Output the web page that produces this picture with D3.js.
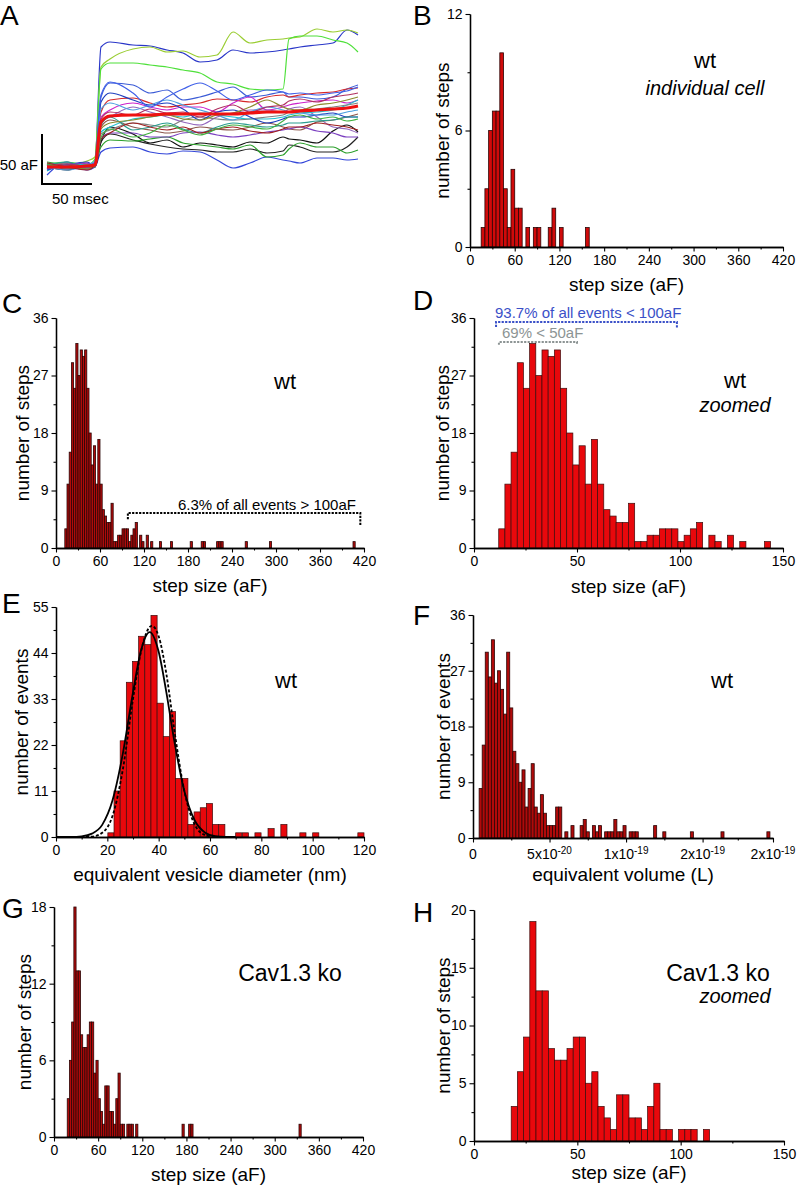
<!DOCTYPE html>
<html>
<head>
<meta charset="utf-8">
<script src="https://cdn.jsdelivr.net/npm/d3@7"></script>
<style>
  body { margin: 0; background: #fff; }
</style>
</head>
<body>
<svg width="800" height="1187"></svg>
<script>
const FONT = '"Liberation Sans", Arial, Helvetica, sans-serif';

// ---- A: capacitance traces (time in msec, capacitance in aF) ----
const traceTimes = [0, 20, 40, 48, 54, 63, 86, 103, 120, 136, 153, 170, 186, 203, 220, 236, 242, 253, 270, 286, 300, 311];
const traceColors = ['#2936c8', '#9acd32', '#4ee03a', '#3447d9', '#111111', '#222222', '#2ca02c', '#3b5bd6',
  '#d62728', '#cc22cc', '#9467bd', '#20c0d0', '#808080', '#8c564b', '#1f3fbf', '#2a9d8f', '#4da0e0',
  '#8c8c30', '#7b3fc0', '#4060e8', '#a02020', '#b03060', '#40b040'];
const traceValues = [
  [-2, 3, 0, 5, 120, 125, 122, 121, 117, 114, 105, 107, 117, 114, 115, 117, 118, 120, 122, 124, 137, 132],
  [4, 2, 6, 10, 100, 108, 118, 120, 115, 116, 110, 112, 135, 124, 127, 128, 129, 130, 138, 135, 137, 134],
  [3, 5, 2, 8, 98, 104, 104, 102, 100, 97, 94, 85, 83, 78, 77, 78, 128, 131, 131, 127, 124, 115],
  [-8, 5, -3, 0, 15, 19, 20, 15, 13, 16, 15, 7, -1, 4, 10, 7, 6, 4, 9, 9, 7, 8],
  [0, -3, 2, 0, 25, 40, 33, 24, 27, 20, 24, 22, 20, 25, 24, 30, 28, 27, 24, 36, 42, 35],
  [2, 0, -2, 3, 25, 33, 27, 23, 20, 18, 17, 15, 15, 18, 14, 16, 22, 20, 15, 15, 20, 30],
  [5, 2, 0, 4, 20, 27, 26, 28, 30, 24, 22, 20, 18, 22, 10, 12, 18, 24, 20, 20, 14, 17],
  [-2, 3, -1, 5, 70, 84, 82, 74, 77, 67, 70, 75, 80, 70, 72, 75, 70, 70, 68, 70, 78, 82],
  [0, 2, 3, 4, 55, 67, 69, 64, 60, 62, 64, 68, 67, 65, 70, 72, 70, 72, 74, 75, 78, 79],
  [3, -2, 4, 2, 50, 57, 64, 60, 57, 60, 60, 55, 64, 70, 57, 60, 62, 64, 66, 67, 64, 67],
  [4, 0, -3, 3, 45, 50, 60, 55, 50, 45, 42, 50, 54, 57, 57, 55, 58, 60, 50, 40, 38, 34],
  [-4, 3, 2, 0, 35, 40, 48, 50, 52, 50, 54, 52, 50, 48, 48, 50, 52, 54, 55, 57, 62, 67],
  [1, 4, -2, 2, 33, 37, 44, 42, 40, 47, 50, 48, 47, 48, 50, 52, 55, 57, 58, 60, 62, 64],
  [2, -2, 1, 0, 40, 47, 40, 37, 34, 36, 40, 38, 37, 40, 44, 40, 38, 37, 45, 47, 50, 53],
  [-3, 2, 5, 1, 65, 74, 67, 62, 64, 58, 47, 55, 57, 50, 44, 48, 50, 50, 52, 54, 50, 50],
  [2, 5, 0, 3, 42, 50, 37, 40, 44, 38, 34, 40, 44, 42, 40, 42, 44, 44, 46, 47, 50, 50],
  [0, -3, 2, 6, 58, 64, 57, 62, 67, 62, 57, 52, 47, 55, 60, 57, 55, 54, 52, 52, 55, 57],
  [3, 1, -2, 4, 38, 44, 47, 50, 52, 48, 47, 52, 54, 60, 67, 60, 58, 57, 62, 64, 67, 70],
  [-2, 2, 4, 1, 28, 34, 34, 30, 30, 34, 35, 32, 30, 32, 35, 37, 38, 40, 36, 34, 30, 30],
  [2, -1, 0, 5, 72, 85, 74, 60, 70, 78, 84, 76, 67, 72, 77, 75, 73, 74, 72, 74, 76, 80],
  [4, 0, -3, 2, 28, 34, 44, 40, 37, 40, 34, 38, 40, 36, 34, 38, 40, 40, 44, 42, 40, 37],
  [1, 3, 1, 2, 48, 55, 52, 58, 54, 55, 50, 58, 62, 55, 60, 62, 66, 68, 65, 70, 72, 74],
  [3, -1, 2, 1, 30, 38, 30, 34, 42, 37, 32, 38, 42, 40, 38, 46, 50, 52, 48, 50, 46, 48]
];
const meanTrace = [0, 0, 1, 2, 45, 51, 52, 52, 53, 53, 53, 53, 53, 54, 55, 55, 55, 56, 57, 58, 59, 61];

// ---- B: one cell, 5 aF bins ----
const cellStart = [15, 20, 25, 30, 35, 40, 45, 50, 55, 60, 65, 75, 85, 90, 105, 110, 120, 155];
const cellCount = [1, 3, 6, 7, 7, 10, 3, 1, 4, 2, 2, 1, 1, 1, 1, 2, 1, 1];

// ---- C / D: all wt steps, 3 aF bins ----
const wtStart = [12, 15, 18, 21, 24, 27, 30, 33, 36, 39, 42, 45, 48, 51, 54, 57, 60, 63, 66, 69, 72, 75,
  78, 81, 84, 87, 90, 93, 96, 99, 102, 105, 108, 111, 114, 117, 120, 123, 126, 129, 132, 135, 138, 141];
const wtCount = [3, 10, 15, 29, 25, 32, 27, 31, 30, 31, 25, 18, 13, 16, 10, 17, 10, 6, 5, 4, 4, 7,
  1, 1, 2, 2, 3, 3, 3, 1, 2, 3, 4, 0, 2, 1, 0, 2, 0, 1, 0, 0, 0, 1];
const wtTailStart = [156, 183, 198, 201, 219, 222, 225, 258, 291, 405];
const wtTailCount = [1, 1, 1, 1, 1, 1, 1, 1, 1, 1];

// ---- E: equivalent vesicle diameter (nm), 2.4 nm bins ----
const diamStart = [20.2, 22.6, 25, 27.4, 29.8, 32.2, 34.6, 37, 39.4, 41.8, 44.2, 46.6, 49, 51.4, 53.8, 56.2,
  58.6, 61, 63.4, 70, 72.6, 77.5, 82.6, 87.6, 95, 100, 117.6];
const diamCount = [1, 11, 23, 37, 42, 48, 46, 53, 32, 24, 30, 14, 14, 3, 6, 7, 8, 3, 3, 1, 1, 1, 2, 3, 1, 1, 1];
const fitDiam = [0, 6, 10, 14, 18, 22, 26, 30, 33, 36.5, 40, 43, 46, 50, 54, 58, 62, 66, 70];
const fitSolid = [0, 0, 0.15, 0.8, 2.9, 8.7, 19.8, 34.6, 44.3, 49, 44.3, 34.6, 23.3, 11, 4, 1.1, 0.2, 0, 0];
const dashDiam = [0, 10, 14, 18, 22, 26, 30, 33, 37.3, 40, 43, 46, 50, 54, 58, 62, 70];
const dashVal = [0, 0, 0.1, 1, 5, 16, 33, 44, 50.5, 48, 39, 26, 11, 3, 0.5, 0, 0];

// ---- F: equivalent volume, in units of 1e-21 L, 2e-21 L bins ----
const volStart = [4, 6, 8, 10, 12, 14, 16, 18, 20, 22, 24, 26, 28, 30, 32, 34, 36, 38, 40, 42, 44, 46, 48, 50, 52,
  54, 56, 60, 64, 70, 72, 74, 78, 80, 82, 86, 88, 90, 92, 94, 96, 98, 102, 104, 106, 118, 124, 142, 162, 192];
const volCount = [8, 15, 30, 26, 32, 25, 27, 24, 20, 30, 21, 14, 12, 9, 11, 5, 8, 12, 5, 4, 7, 4, 2, 2, 2,
  5, 5, 1, 2, 2, 3, 1, 2, 1, 2, 1, 1, 1, 3, 1, 1, 2, 1, 1, 1, 2, 1, 1, 1, 1];
const volTicks = [0, 50, 100, 150, 196];
const volTickBase = ['0', '5x10', '1x10', '2x10', '2x10'];
const volTickExp = ['', '-20', '-19', '-19', '-19'];

// ---- G / H: Cav1.3 ko steps, 3 aF bins ----
const koStart = [18, 21, 24, 27, 30, 33, 36, 39, 42, 45, 48, 51, 54, 57, 60, 63, 66, 69, 72, 75, 78, 81,
  84, 87, 90, 93, 96, 99, 102, 105, 108, 111];
const koCount = [3, 6, 9, 19, 13, 13, 8, 7, 7, 8, 9, 9, 5, 6, 3, 2, 1, 4, 4, 2, 2, 1, 3, 5, 1, 1, 0, 1, 1, 1, 0, 1];
const koTailStart = [174, 183, 186, 333];
const koTailCount = [1, 1, 1, 1];

const svg = d3.select('svg');

function txt(x, y, s, size, opts) {
  opts = opts || {};
  return svg.append('text')
    .attr('x', x).attr('y', y)
    .attr('font-family', FONT)
    .attr('font-size', size)
    .attr('font-style', opts.italic ? 'italic' : 'normal')
    .attr('text-anchor', opts.anchor || 'start')
    .attr('fill', opts.color || '#000')
    .text(s);
}

function styleAxis(s) {
  s.attr('font-size', 14).attr('font-family', FONT);
  s.selectAll('.domain').attr('stroke-width', 1.3);
  s.selectAll('.tick line').attr('stroke-width', 1.1);
  s.selectAll('text').attr('fill', '#000');
}

function hist(o) {
  const x = d3.scaleLinear().domain(o.xDomain).range([o.x0, o.x1]);
  const y = d3.scaleLinear().domain(o.yDomain).range([o.y0, o.y1]);
  const yMax = o.yDomain[1];
  const g = svg.append('g');
  const rows = o.starts.map((s, i) => ({ s: s, c: o.counts[i] })).filter(d => d.c > 0);

  g.selectAll('rect')
    .data(rows)
    .enter()
    .append('rect')
    .attr('x', d => x(d.s))
    .attr('width', d => x(d.s + o.bin) - x(d.s))
    .attr('y', d => y(Math.min(d.c, yMax)))
    .attr('height', d => y(0) - y(Math.min(d.c, yMax)))
    .attr('fill', o.fill || '#e8080c')
    .attr('stroke', o.stroke || '#3b0d0d')
    .attr('stroke-width', o.sw || 0.7);

  const xa = g.append('g').attr('transform', `translate(0,${o.y0})`);
  xa.append('g').call(d3.axisBottom(x).tickValues(o.xMinor).tickSize(2.5).tickSizeOuter(0).tickFormat(''))
    .call(styleAxis);
  xa.append('g').call(d3.axisBottom(x).tickValues(o.xTicks).tickSize(4.5).tickSizeOuter(0).tickPadding(4)
    .tickFormat(o.xFmt || d3.format('d')))
    .call(styleAxis);

  const ya = g.append('g').attr('transform', `translate(${o.x0},0)`);
  ya.append('g').call(d3.axisLeft(y).tickValues(o.yMinor).tickSize(2.5).tickSizeOuter(0).tickFormat(''))
    .call(styleAxis);
  ya.append('g').call(d3.axisLeft(y).tickValues(o.yTicks).tickSize(4.5).tickSizeOuter(0).tickPadding(3)
    .tickFormat(d3.format('d')))
    .call(styleAxis);

  txt((o.x0 + o.x1) / 2, o.xLabelY, o.xLabel, 19, { anchor: 'middle' });
  svg.append('text')
    .attr('transform', `translate(${o.yLabelX},${(o.y0 + o.y1) / 2}) rotate(-90)`)
    .attr('dy', '0.35em')
    .attr('text-anchor', 'middle')
    .attr('font-family', FONT)
    .attr('font-size', 19)
    .text(o.yLabel);

  return { x: x, y: y, g: g };
}

function bracket(x, y, a, b, level, endA, endB, color) {
  const pts = [[a, endA], [a, level], [b, level], [b, endB]];
  svg.append('path')
    .attr('d', d3.line().x(d => x(d[0])).y(d => y(d[1]))(pts))
    .attr('fill', 'none')
    .attr('stroke', color)
    .attr('stroke-width', 2)
    .attr('stroke-dasharray', '2.2,1.3');
}

// narrow-bar panels look darker in the original
const DARK = { fill: '#b00a0a', stroke: '#2a0505', sw: 0.8 };

// ---------- panel letters ----------
[['A', 0, 25], ['B', 413, 25], ['C', 2, 313], ['D', 413, 310],
 ['E', 2, 613], ['F', 413, 625], ['G', 2, 918], ['H', 413, 922]].forEach(p => txt(p[1], p[2], p[0], 28));

// ---------- A ----------
const ax = d3.scaleLinear().domain([0, 311]).range([47, 358]);
const ay = d3.scaleLinear().domain([0, 150]).range([167, 17]);
const traceLine = d3.line()
  .x((d, i) => ax(traceTimes[i]))
  .y(d => ay(d))
  .curve(d3.curveMonotoneX);

svg.append('g')
  .selectAll('path')
  .data(traceValues)
  .enter()
  .append('path')
  .attr('d', traceLine)
  .attr('fill', 'none')
  .attr('stroke', (d, i) => traceColors[i])
  .attr('stroke-width', 1.2);

svg.append('path')
  .attr('d', traceLine(meanTrace))
  .attr('fill', 'none')
  .attr('stroke', '#ee1111')
  .attr('stroke-width', 3.2);

// scale bar: 50 msec x 50 aF
svg.append('path')
  .attr('d', d3.line()([[ax(-5), ay(33)], [ax(-5), ay(-17)], [ax(45), ay(-17)]]))
  .attr('fill', 'none')
  .attr('stroke', '#000')
  .attr('stroke-width', 2);
txt(38, 170, '50 aF', 15, { anchor: 'end' });
txt(52, 204, '50 msec', 15);

// ---------- B ----------
hist(Object.assign({
  x0: 470, x1: 783, y0: 247, y1: 14,
  xDomain: [0, 420], yDomain: [0, 12], bin: 5,
  starts: cellStart, counts: cellCount,
  xTicks: [0, 60, 120, 180, 240, 300, 360, 420], xMinor: [30, 90, 150, 210, 270, 330, 390],
  yTicks: [0, 6, 12], yMinor: [3, 9],
  xLabel: 'step size (aF)', xLabelY: 291, yLabel: 'number of steps', yLabelX: 442
}, { fill: '#d00a0a', stroke: '#2a0505', sw: 0.8 }));
txt(705, 68, 'wt', 22, { anchor: 'middle' });
txt(705, 95, 'individual cell', 20, { anchor: 'middle', italic: true });

// ---------- C ----------
const pc = hist(Object.assign({
  x0: 56, x1: 364, y0: 548, y1: 318,
  xDomain: [0, 420], yDomain: [0, 36], bin: 3,
  starts: wtStart.concat(wtTailStart), counts: wtCount.concat(wtTailCount),
  xTicks: [0, 60, 120, 180, 240, 300, 360, 420], xMinor: [30, 90, 150, 210, 270, 330, 390],
  yTicks: [0, 9, 18, 27, 36], yMinor: [4.5, 13.5, 22.5, 31.5],
  xLabel: 'step size (aF)', xLabelY: 592, yLabel: 'number of steps', yLabelX: 22
}, DARK));
txt(285, 389, 'wt', 22, { anchor: 'middle' });
bracket(pc.x, pc.y, 98, 415, 5.48, 4.5, 3.6, '#000');
txt(pc.x(409), pc.y(5.95), '6.3% of all events > 100aF', 15, { anchor: 'end' });

// ---------- D ----------
const pd = hist({
  x0: 474, x1: 783, y0: 548, y1: 318,
  xDomain: [0, 150], yDomain: [0, 36], bin: 3,
  starts: wtStart, counts: wtCount,
  xTicks: [0, 50, 100, 150], xMinor: [25, 75, 125],
  yTicks: [0, 9, 18, 27, 36], yMinor: [4.5, 13.5, 22.5, 31.5],
  xLabel: 'step size (aF)', xLabelY: 593, yLabel: 'number of steps', yLabelX: 442
});
txt(735, 388, 'wt', 22, { anchor: 'middle' });
txt(735, 412, 'zoomed', 20, { anchor: 'middle', italic: true });
bracket(pd.x, pd.y, 10.7, 98.5, 35.37, 34.6, 34.4, '#3a50c8');
txt(pd.x(10.2), pd.y(36.0), '93.7% of all events < 100aF', 15, { color: '#3a50c8' });
bracket(pd.x, pd.y, 12.1, 50, 32.24, 31.8, 31.8, '#8c9494');
txt(pd.x(13.6), pd.y(32.9), '69% < 50aF', 15, { color: '#8c9494' });

// ---------- E ----------
const pe = hist({
  x0: 56, x1: 364, y0: 837, y1: 607,
  xDomain: [0, 120], yDomain: [0, 55], bin: 2.4,
  starts: diamStart, counts: diamCount,
  xTicks: [0, 20, 40, 60, 80, 100, 120], xMinor: [10, 30, 50, 70, 90, 110],
  yTicks: [0, 11, 22, 33, 44, 55], yMinor: [5.5, 16.5, 27.5, 38.5, 49.5],
  xLabel: 'equivalent vesicle diameter (nm)', xLabelY: 881, yLabel: 'number of events', yLabelX: 21
});
svg.append('path')
  .attr('d', d3.line().x((d, i) => pe.x(fitDiam[i])).y(d => pe.y(d)).curve(d3.curveMonotoneX)(fitSolid))
  .attr('fill', 'none').attr('stroke', '#000').attr('stroke-width', 1.8);
svg.append('path')
  .attr('d', d3.line().x((d, i) => pe.x(dashDiam[i])).y(d => pe.y(d)).curve(d3.curveMonotoneX)(dashVal))
  .attr('fill', 'none').attr('stroke', '#000').attr('stroke-width', 1.8).attr('stroke-dasharray', '3,2');
txt(286, 688, 'wt', 22, { anchor: 'middle' });

// ---------- F ----------
const pf = hist(Object.assign({
  x0: 473, x1: 773, y0: 838, y1: 615,
  xDomain: [0, 196], yDomain: [0, 36], bin: 2,
  starts: volStart, counts: volCount,
  xTicks: volTicks, xMinor: [25, 75, 125, 173], xFmt: () => '',
  yTicks: [0, 9, 18, 27, 36], yMinor: [4.5, 13.5, 22.5, 31.5],
  xLabel: 'equivalent volume (L)', xLabelY: 881, yLabel: 'number of events', yLabelX: 443
}, DARK));
volTicks.forEach((v, i) => {
  const t = svg.append('text')
    .attr('x', pf.x(v)).attr('y', 838 + 21)
    .attr('text-anchor', 'middle')
    .attr('font-family', FONT).attr('font-size', 14);
  t.append('tspan').text(volTickBase[i]);
  if (volTickExp[i]) t.append('tspan').attr('dy', '-0.55em').attr('font-size', 10).text(volTickExp[i]);
});
txt(722, 688, 'wt', 22, { anchor: 'middle' });

// ---------- G ----------
hist(Object.assign({
  x0: 54, x1: 363, y0: 1137, y1: 907,
  xDomain: [0, 420], yDomain: [0, 18], bin: 3,
  starts: koStart.concat(koTailStart), counts: koCount.concat(koTailCount),
  xTicks: [0, 60, 120, 180, 240, 300, 360, 420], xMinor: [30, 90, 150, 210, 270, 330, 390],
  yTicks: [0, 6, 12, 18], yMinor: [3, 9, 15],
  xLabel: 'step size (aF)', xLabelY: 1181, yLabel: 'number of steps', yLabelX: 24
}, DARK));
txt(290, 981, 'Cav1.3 ko', 23, { anchor: 'middle' });

// ---------- H ----------
hist({
  x0: 474, x1: 784, y0: 1141, y1: 910,
  xDomain: [0, 150], yDomain: [0, 20], bin: 3,
  starts: koStart, counts: koCount,
  xTicks: [0, 50, 100, 150], xMinor: [25, 75, 125],
  yTicks: [0, 5, 10, 15, 20], yMinor: [2.5, 7.5, 12.5, 17.5],
  xLabel: 'step size (aF)', xLabelY: 1179, yLabel: 'number of steps', yLabelX: 443
});
txt(718, 981, 'Cav1.3 ko', 23, { anchor: 'middle' });
txt(735, 1003, 'zoomed', 20, { anchor: 'middle', italic: true });
</script>
</body>
</html>
